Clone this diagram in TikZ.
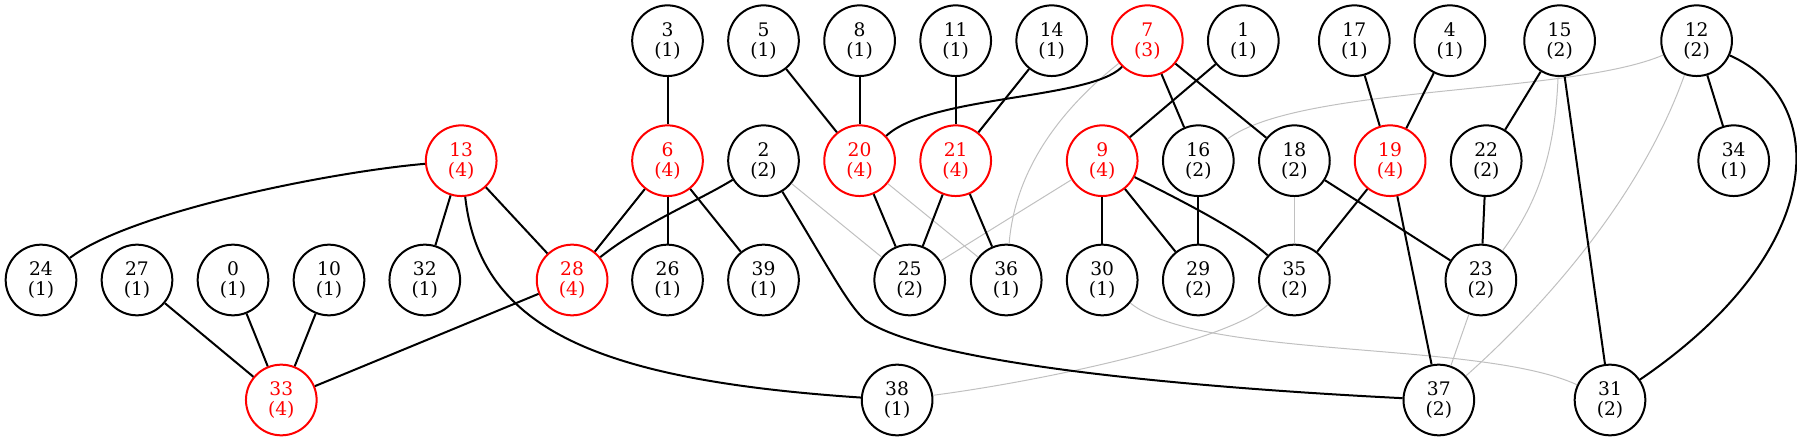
\documentclass[tikz,border=0pt]{standalone}
\usepackage{fontspec}
\setmainfont{DejaVu Serif}
\usepackage{tikz}
\definecolor{faint}{RGB}{192,192,192}

\begin{document}
\begin{tikzpicture}[x=0.75pt, y=-0.75pt,
    vtx/.style={circle, draw, line width=1.5pt, minimum size=53pt, inner sep=0pt,
      align=center, font=\fontsize{14}{15}\selectfont},
    hot/.style={vtx, draw=red, text=red},
    lnk/.style={line width=1.5pt},
    weak/.style={line width=0.75pt, draw=faint}]
      \useasboundingbox (0,0) rectangle (1797,441);
      % top row
      \node[vtx] (v3) at (667.5,40.7) {3\\(1)};
      \node[vtx] (v5) at (763.5,40.7) {5\\(1)};
      \node[vtx] (v8) at (859.6,40.7) {8\\(1)};
      \node[vtx] (v11) at (955.7,40.7) {11\\(1)};
      \node[vtx] (v14) at (1051.7,40.7) {14\\(1)};
      \node[hot] (v7) at (1147.3,40.7) {7\\(3)};
      \node[vtx] (v1) at (1243.3,40.7) {1\\(1)};
      \node[vtx] (v17) at (1354.3,40.7) {17\\(1)};
      \node[vtx] (v4) at (1449.9,40.7) {4\\(1)};
      \node[vtx] (v15) at (1559.6,40.7) {15\\(2)};
      \node[vtx] (v12) at (1696.6,40.7) {12\\(2)};
      % second row
      \node[hot] (v13) at (461.2,160.7) {13\\(4)};
      \node[hot] (v6) at (667.5,160.7) {6\\(4)};
      \node[vtx] (v2) at (763.5,160.7) {2\\(2)};
      \node[hot] (v20) at (859.6,160.7) {20\\(4)};
      \node[hot] (v21) at (955.7,160.7) {21\\(4)};
      \node[hot] (v9) at (1102.2,160.7) {9\\(4)};
      \node[vtx] (v16) at (1198.3,160.7) {16\\(2)};
      \node[vtx] (v18) at (1294.4,160.7) {18\\(2)};
      \node[hot] (v19) at (1390.1,160.7) {19\\(4)};
      \node[vtx] (v22) at (1486.2,160.7) {22\\(2)};
      \node[vtx] (v34) at (1733.7,160.7) {34\\(1)};
      % third row
      \node[vtx] (v24) at (41,280) {24\\(1)};
      \node[vtx] (v27) at (137,280) {27\\(1)};
      \node[vtx] (v0) at (233,280) {0\\(1)};
      \node[vtx] (v10) at (329,280) {10\\(1)};
      \node[vtx] (v32) at (424.8,280) {32\\(1)};
      \node[hot] (v28) at (572.1,280) {28\\(4)};
      \node[vtx] (v26) at (667.5,280) {26\\(1)};
      \node[vtx] (v39) at (763.5,280) {39\\(1)};
      \node[vtx] (v25) at (909.7,280) {25\\(2)};
      \node[vtx] (v36) at (1006.2,280) {36\\(1)};
      \node[vtx] (v30) at (1102.2,280) {30\\(1)};
      \node[vtx] (v29) at (1198.3,280) {29\\(2)};
      \node[vtx] (v35) at (1294.4,280) {35\\(2)};
      \node[vtx] (v23) at (1480.9,280) {23\\(2)};
      % bottom row
      \node[hot] (v33) at (281.3,400) {33\\(4)};
      \node[vtx] (v38) at (897.1,400) {38\\(1)};
      \node[vtx] (v37) at (1438.8,400) {37\\(2)};
      \node[vtx] (v31) at (1610,400) {31\\(2)};
      % faint edges
      \draw[weak] (v12) .. controls (1570,95) and (1300,85) .. (v16);
      \draw[weak] (v12) .. controls (1640,200) and (1540,310) .. (v37);
      \draw[weak] (v15) .. controls (1555,150) and (1540,200) .. (v23);
      \draw[weak] (v7) .. controls (1060,110) and (1015,170) .. (v36);
      \draw[weak] (v2) -- (v25);
      \draw[weak] (v20) -- (v36);
      \draw[weak] (v9) -- (v25);
      \draw[weak] (v18) -- (v35);
      \draw[weak] (v23) -- (v37);
      \draw[weak] (v30) .. controls (1200,360) and (1480,340) .. (v31);
      \draw[weak] (v35) .. controls (1230,340) and (1050,380) .. (v38);
      % edges
      \draw[lnk] (v3) -- (v6);
      \draw[lnk] (v5) -- (v20);
      \draw[lnk] (v8) -- (v20);
      \draw[lnk] (v11) -- (v21);
      \draw[lnk] (v14) -- (v21);
      \draw[lnk] (v7) .. controls (1090,100) and (930,95) .. (v20);
      \draw[lnk] (v7) -- (v16);
      \draw[lnk] (v7) -- (v18);
      \draw[lnk] (v1) -- (v9);
      \draw[lnk] (v17) -- (v19);
      \draw[lnk] (v4) -- (v19);
      \draw[lnk] (v15) -- (v22);
      \draw[lnk] (v15) -- (v31);
      \draw[lnk] (v12) -- (v34);
      \draw[lnk] (v12) .. controls (1830,100) and (1830,250) .. (v31);
      \draw[lnk] (v13) .. controls (330,172) and (130,212) .. (v24);
      \draw[lnk] (v13) -- (v32);
      \draw[lnk] (v13) -- (v28);
      \draw[lnk] (v13) .. controls (480,330) and (600,380) .. (v38);
      \draw[lnk] (v6) -- (v28);
      \draw[lnk] (v6) -- (v26);
      \draw[lnk] (v6) -- (v39);
      \draw[lnk] (v28) .. controls (640,225) and (700,200) .. (v2);
      \draw[lnk] (v2) .. controls (830,270) and (848,305) .. (865,320)
                 .. controls (930,365) and (1200,388) .. (v37);
      \draw[lnk] (v20) -- (v25);
      \draw[lnk] (v21) -- (v25);
      \draw[lnk] (v21) -- (v36);
      \draw[lnk] (v9) -- (v30);
      \draw[lnk] (v9) -- (v29);
      \draw[lnk] (v9) .. controls (1180,200) and (1240,230) .. (v35);
      \draw[lnk] (v16) -- (v29);
      \draw[lnk] (v18) -- (v23);
      \draw[lnk] (v19) -- (v35);
      \draw[lnk] (v19) -- (v37);
      \draw[lnk] (v22) -- (v23);
      \draw[lnk] (v27) -- (v33);
      \draw[lnk] (v0) -- (v33);
      \draw[lnk] (v10) -- (v33);
      \draw[lnk] (v28) -- (v33);
    \end{tikzpicture}
\end{document}
